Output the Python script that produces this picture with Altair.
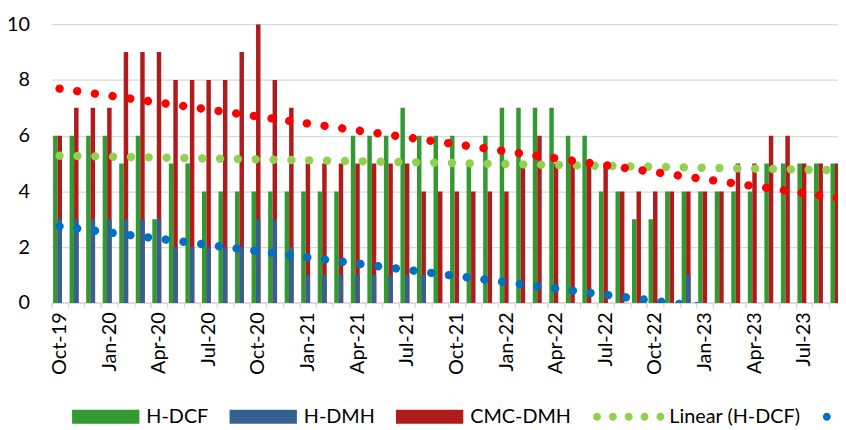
import json
import altair as alt
import pandas as pd

# Categories: monthly, Oct-19 .. Sep-23
months = pd.date_range("2019-10-01", periods=48, freq="MS").strftime("%b-%y").tolist()

# Series values
h_dcf = [6, 6, 6, 6, 5, 6, 3, 5, 5, 4, 4, 4, 4, 4, 4, 4, 4, 4, 6, 6, 6, 7, 6, 6,
         6, 5, 6, 7, 7, 7, 7, 6, 6, 4, 4, 3, 3, 4, 4, 4, 4, 4, 4, 5, 5, 5, 5, 5]
h_dmh = [3, 3, 3, 3, 3, 3, 3, 2, 2, 2, 2, 2, 3, 3, 2, 1, 1, 1, 1, 1, 1, 1, 1, 0,
         0, 0, 0, 0, 0, 0, 0, 0, 0, 0, 0, 0, 0, 0, 1, 0, 0, 0, 0, 0, 0, 0, 0, 0]
cmc_dmh = [6, 7, 7, 7, 9, 9, 9, 8, 8, 8, 8, 9, 10, 8, 7, 5, 5, 5, 5, 5, 5, 5, 4, 4,
           4, 4, 4, 4, 5, 6, 5, 5, 5, 5, 4, 4, 4, 4, 4, 4, 4, 5, 5, 6, 6, 5, 5, 5]

series_names = ["H-DCF", "H-DMH", "CMC-DMH"]
bar_colors = ["#339933", "#376092", "#B01C1C"]
trend_names = ["Linear (H-DCF)", "Linear (H-DMH)", "Linear (CMC-DMH)"]
trend_colors = ["#92D050", "#0070C0", "#FF0000"]

FONT = "Lato"

wide = pd.DataFrame({"month": months, "idx": list(range(len(months))),
                     "hdcf": h_dcf, "hdmh": h_dmh, "cmc": cmc_dmh})

# bars: green at the left slot, red then blue (drawn over red) at the right slot
rows = []
for name, vals, pos in [("H-DCF", h_dcf, 0), ("CMC-DMH", cmc_dmh, 1), ("H-DMH", h_dmh, 1)]:
    for m, i, v in zip(months, range(len(months)), vals):
        rows.append({"month": m, "idx": i, "series": name, "value": v, "pos": pos})
long_df = pd.DataFrame(rows)

x_scale = alt.Scale(domain=[0, 47.56], nice=False, zero=False)
y_scale = alt.Scale(domain=[0, 10], nice=False)

# labelled axis: one label every third month, centred in its category
x_axis_labels = alt.Axis(
    orient="bottom", title=None, values=list(range(0, len(months), 3)), grid=False,
    tickSize=5, tickColor="#d9d9d9", tickWidth=1.3,
    domainColor="#d9d9d9", domainWidth=1.3,
    labelAngle=270, labelPadding=4, labelOffset=8.35, labelFlush=False, labelOverlap=False,
    labelFont=FONT, labelFontSize=20, labelColor="#000000",
    labelExpr=json.dumps(months) + "[datum.value]",
)
# second axis: a tick at every category boundary
x_axis_ticks = alt.Axis(
    orient="bottom", title=None, values=list(range(len(months))), grid=False,
    labels=False, domain=False, tickSize=5, tickColor="#d9d9d9", tickWidth=1.3,
)
y_axis = alt.Axis(
    title=None, values=[0, 2, 4, 6, 8, 10], grid=True, gridColor="#d9d9d9", gridWidth=1.3,
    domain=False, ticks=False, labelPadding=22, labelFont=FONT, labelFontSize=20,
    labelColor="#000000",
)

bars = alt.Chart(long_df).transform_calculate(
    x0="datum.idx + 0.108 + 0.27 * datum.pos",
    x1="datum.idx + 0.378 + 0.27 * datum.pos",
).mark_rect(clip=True).encode(
    x=alt.X("x0:Q", scale=x_scale, axis=x_axis_labels),
    x2="x1:Q",
    y=alt.Y("value:Q", scale=y_scale, axis=y_axis),
    y2=alt.datum(0),
    color=alt.Color("series:N", scale=alt.Scale(domain=series_names, range=bar_colors), legend=None),
)


def trend(field, color, axis):
    # Excel-style linear trendline, fitted by the library from the series
    return (
        alt.Chart(wide)
        .transform_regression("idx", field)
        .transform_calculate(xc="datum.idx + 0.5")
        .mark_line(clip=True, strokeDash=[0.01, 18], strokeCap="round", strokeWidth=8.5, color=color)
        .encode(x=alt.X("xc:Q", axis=axis), y=alt.Y(f"{field}:Q"))
    )


# legend (bars as wide swatches, trendlines as rows of dots)
entries = series_names + trend_names
rect_path = "M-1,-0.206H1V0.206H-1Z"
r = 0.118
dots_path = " ".join(
    f"M{c - r:.3f},0A{r},{r} 0 1,0 {c + r:.3f},0A{r},{r} 0 1,0 {c - r:.3f},0Z"
    for c in [-0.941, -0.47, 0.0, 0.47, 0.941]
)
entry_shapes = [rect_path] * 3 + [dots_path] * 3
entry_colors = bar_colors + trend_colors
legend_df = pd.DataFrame({"entry": entries})

legend_def = alt.Legend(
    title=None, orient="none", legendX=21, legendY=362.4, direction="horizontal",
    symbolSize=4624, symbolStrokeWidth=0, symbolOpacity=1, labelFont=FONT, labelFontSize=20,
    labelColor="#000000", labelOffset=7, columnPadding=21, padding=0, labelLimit=0,
)

# legend-only layer: no marks drawn (filtered out), entries come from the scale domains
leg = alt.Chart(legend_df).transform_filter("false").mark_point(filled=True).encode(
    color=alt.Color("entry:N", scale=alt.Scale(domain=entries, range=entry_colors), legend=legend_def),
    shape=alt.Shape("entry:N", scale=alt.Scale(domain=entries, range=entry_shapes), legend=legend_def),
)

chart = (
    alt.layer(bars,
              trend("hdcf", trend_colors[0], x_axis_ticks),
              trend("hdmh", trend_colors[1], None),
              trend("cmc", trend_colors[2], None),
              leg)
    .resolve_scale(color="independent", shape="independent")
    .resolve_axis(x="independent")
    .properties(
        width=794.3, height=281.4,
        autosize=alt.AutoSizeParams(type="none"),
        padding={"left": 43.7, "top": 14.3, "right": 0, "bottom": 126.3},
        background="#ffffff",
    )
    .configure_view(strokeWidth=0)
)

chart.save("out.html", embed_options={"renderer": "svg", "actions": False})
